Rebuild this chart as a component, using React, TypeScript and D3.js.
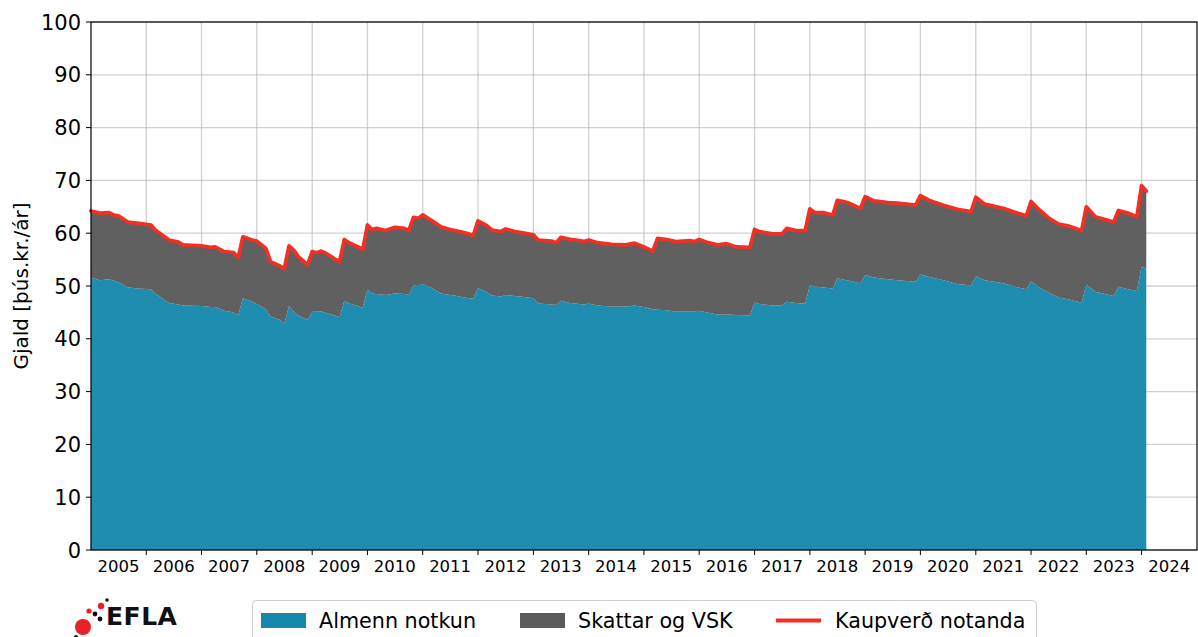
import React from "react";
import * as d3 from "d3";

const months = [
  "2005-01","2005-03","2005-05","2005-06","2005-07","2005-09","2005-11","2006-02","2006-03","2006-06",
  "2006-08","2006-09","2007-01","2007-03","2007-04","2007-06","2007-08","2007-09","2007-10","2007-12",
  "2008-01","2008-03","2008-04","2008-06","2008-07","2008-08","2008-09","2008-10","2008-12","2009-01",
  "2009-02","2009-03","2009-04","2009-06","2009-07","2009-08","2009-09","2009-11","2009-12","2010-01",
  "2010-02","2010-03","2010-05","2010-07","2010-09","2010-10","2010-11","2010-12","2011-01","2011-03",
  "2011-05","2011-07","2011-08","2011-10","2011-12","2012-01","2012-03","2012-04","2012-06","2012-07",
  "2012-09","2012-11","2013-01","2013-02","2013-05","2013-06","2013-07","2013-09","2013-11","2013-12",
  "2014-01","2014-03","2014-06","2014-09","2014-11","2015-01","2015-03","2015-04","2015-06","2015-08",
  "2015-11","2015-12","2016-01","2016-03","2016-05","2016-07","2016-09","2016-12","2017-01","2017-02",
  "2017-05","2017-07","2017-08","2017-10","2017-12","2018-01","2018-02","2018-04","2018-06","2018-07",
  "2018-09","2018-10","2018-12","2019-01","2019-03","2019-06","2019-08","2019-12","2020-01","2020-03",
  "2020-06","2020-09","2020-12","2021-01","2021-03","2021-07","2021-10","2021-12","2022-01","2022-03",
  "2022-05","2022-07","2022-09","2022-12","2023-01","2023-03","2023-07","2023-08","2023-10","2023-12",
  "2024-01","2024-02"
];

// Almenn notkun (general use), þús.kr./ár
const almennNotkun = [
  51.6,51.1,51.3,51.0,50.7,49.75,49.55,49.4,48.6,46.8,
  46.5,46.3,46.2,46.0,46.0,45.3,45.0,44.5,47.7,47.0,
  46.6,45.6,44.2,43.6,42.9,46.2,45.1,44.4,43.6,45.1,
  45.1,45.2,44.9,44.4,44.1,47.2,46.7,46.2,45.9,49.4,
  48.6,48.5,48.3,48.6,48.5,48.3,50.1,50.0,50.4,49.6,
  48.6,48.3,48.2,47.8,47.6,49.6,48.8,48.2,48.0,48.3,
  48.1,47.9,47.7,46.7,46.5,46.4,47.2,46.8,46.6,46.5,
  46.7,46.3,46.1,46.1,46.3,46.0,45.6,45.5,45.4,45.1,
  45.2,45.2,45.3,44.95,44.6,44.6,44.5,44.4,46.9,46.6,
  46.3,46.3,47.0,46.8,46.7,50.2,49.9,49.7,49.55,51.45,
  51.1,50.9,50.5,52.1,51.6,51.3,51.1,50.8,52.2,51.7,
  51.1,50.4,50.1,51.9,51.1,50.5,49.75,49.4,50.9,49.6,
  48.7,47.8,47.5,46.85,50.3,48.9,48.1,49.9,49.4,49.1,
  53.7,53.2
];

// Kaupverð notanda (total purchase price), þús.kr./ár
const kaupverd = [
  64.2,63.8,63.9,63.4,63.3,62.1,61.9,61.55,60.6,58.7,
  58.3,57.8,57.6,57.3,57.4,56.5,56.3,55.4,59.3,58.7,
  58.5,57.1,54.6,53.8,53.3,57.6,56.8,55.55,54.0,56.5,
  56.3,56.6,56.2,55.1,54.6,58.8,58.2,57.4,56.9,61.55,
  60.7,60.9,60.5,61.1,60.9,60.5,63.0,62.8,63.45,62.4,
  61.2,60.7,60.5,60.1,59.6,62.3,61.4,60.6,60.3,60.8,
  60.3,60.0,59.7,58.7,58.5,58.2,59.2,58.85,58.6,58.4,
  58.7,58.2,57.9,57.8,58.1,57.4,56.6,59.0,58.8,58.4,
  58.6,58.4,58.8,58.2,57.8,58.0,57.4,57.3,60.7,60.3,
  59.85,59.85,60.9,60.5,60.5,64.6,63.9,63.9,63.4,66.2,
  65.85,65.5,64.7,66.9,66.1,65.8,65.7,65.3,67.1,66.2,
  65.3,64.5,64.1,66.8,65.5,64.7,63.8,63.3,66.0,64.3,
  62.8,61.7,61.4,60.5,65.0,63.1,62.1,64.3,63.8,63.1,
  69.0,68.0
];

const yTicks = [0, 10, 20, 30, 40, 50, 60, 70, 80, 90, 100];
const yearLabels = [2005,2006,2007,2008,2009,2010,2011,2012,2013,2014,2015,2016,2017,2018,2019,2020,2021,2022,2023,2024];
const legendLabels = ["Almenn notkun", "Skattar og VSK", "Kaupverð notanda"];
const yLabel = "Gjald [þús.kr./ár]";

const W = 1198, H = 637;
const M = { left: 91, right: 1197, top: 22, bottom: 550 };
const BLUE = "#1688ad";
const GREY = "#5a5a5a";
const RED = "#ee3124";
const FONT = "'DejaVu Sans', sans-serif";

export default function App() {
  const parse = d3.timeParse("%Y-%m");
  const data = months.map((m, i) => ({
    date: parse(m) as Date,
    almenn: almennNotkun[i],
    total: kaupverd[i],
  }));

  const x = d3.scaleTime()
    .domain([new Date(2005, 0, 1), new Date(2025, 0, 1)])
    .range([M.left, M.right]);
  const y = d3.scaleLinear().domain([0, 100]).range([M.bottom, M.top]);

  const areaBlue = d3.area<any>().x(d => x(d.date)).y0(y(0)).y1(d => y(d.almenn));
  const areaGrey = d3.area<any>().x(d => x(d.date)).y0(d => y(d.almenn)).y1(d => y(d.total));
  const line = d3.line<any>().x(d => x(d.date)).y(d => y(d.total));

  const yearStarts = d3.range(2006, 2025).map(yr => new Date(yr, 0, 1));

  return (
    <svg width={W} height={H} style={{ position: "absolute", left: 0, top: 0, background: "#fff" }}
      fontFamily={FONT}>
      <rect x={0} y={0} width={W} height={H} fill="#fff" />
      {/* grid (behind the semi-transparent areas) */}
      <g stroke="#b0b0b0" strokeOpacity={0.6} strokeWidth={1.3}>
        {yTicks.map(t => (
          <line key={"gy" + t} x1={M.left} x2={M.right} y1={y(t)} y2={y(t)} />
        ))}
        {yearStarts.map(d => (
          <line key={"gx" + d.getFullYear()} x1={x(d)} x2={x(d)} y1={M.top} y2={M.bottom} />
        ))}
      </g>
      <path d={areaBlue(data) || ""} fill={BLUE} fillOpacity={0.96} />
      <path d={areaGrey(data) || ""} fill={GREY} fillOpacity={0.96} />
      <path d={line(data) || ""} fill="none" stroke={RED} strokeWidth={3.8} strokeLinejoin="round" strokeLinecap="round" />
      {/* frame */}
      <rect x={M.left} y={M.top} width={M.right - M.left} height={M.bottom - M.top} fill="none" stroke="#000" strokeWidth={1.2} />
      {/* y axis */}
      {yTicks.map(t => (
        <g key={"yt" + t}>
          <line x1={M.left - 5} x2={M.left} y1={y(t)} y2={y(t)} stroke="#000" strokeWidth={1} />
          <text x={M.left - 10} y={y(t)} dy="0.36em" textAnchor="end" fontSize={21} fill="#000">{t}</text>
        </g>
      ))}
      <text transform={`translate(28,${(M.top + M.bottom) / 2}) rotate(-90)`} textAnchor="middle" fontSize={20} fill="#000">{yLabel}</text>
      {/* x axis */}
      {yearStarts.map(d => (
        <line key={"xt" + d.getFullYear()} x1={x(d)} x2={x(d)} y1={M.bottom} y2={M.bottom + 5} stroke="#000" strokeWidth={1} />
      ))}
      {yearLabels.map(yr => (
        <text key={"xl" + yr} x={x(new Date(yr, 6, 1))} y={M.bottom + 22} textAnchor="middle" fontSize={16.5} fill="#000">{yr}</text>
      ))}
      {/* legend */}
      <rect x={252.5} y={600.5} width={784} height={50} rx={4} fill="#fff" fillOpacity={0.8} stroke="#cccccc" strokeWidth={1} />
      <rect x={261} y={613} width={45} height={15} fill={BLUE} />
      <text x={319} y={628} fontSize={20.7} fill="#000">{legendLabels[0]}</text>
      <rect x={520} y={613} width={45} height={15} fill={GREY} />
      <text x={578} y={628} fontSize={20.7} fill="#000">{legendLabels[1]}</text>
      <line x1={776} x2={821} y1={620.5} y2={620.5} stroke={RED} strokeWidth={3.8} />
      <text x={835} y={628} fontSize={20.7} fill="#000">{legendLabels[2]}</text>
      {/* EFLA logo */}
      <g>
        <circle cx={83} cy={627} r={8} fill="#e8202a" />
        <circle cx={89} cy={611} r={2.6} fill="#e8202a" />
        <circle cx={101} cy={606} r={3.2} fill="#e8202a" />
        <circle cx={95} cy={614} r={2.4} fill="#111" />
        <circle cx={100} cy={619} r={2.4} fill="#111" />
        <circle cx={107} cy={600} r={1.8} fill="#111" />
        <circle cx={76} cy={637} r={2} fill="#111" />
        <text x={106} y={625} fontSize={25} fontWeight="bold" fill="#111" fontFamily="'DejaVu Sans', sans-serif" letterSpacing={0.5}>EFLA</text>
      </g>
    </svg>
  );
}
